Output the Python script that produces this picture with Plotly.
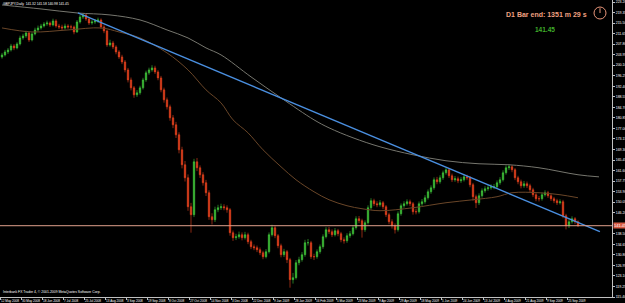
import plotly.graph_objects as go

# ---------------- data (2-day bars, GBPJPY) ----------------
closes = [203.87,204.96,205.69,207.15,206.42,207.88,210.07,210.80,211.90,209.34,
211.53,212.99,213.72,214.45,215.18,215.55,214.82,216.28,214.45,214.09,
213.72,214.45,214.09,214.09,212.26,215.91,217.74,218.47,217.01,215.55,
215.91,216.28,216.64,214.09,212.63,207.52,208.25,206.79,204.96,203.14,
201.31,198.39,194.74,191.82,189.27,190.00,191.82,194.74,197.30,198.39,
199.12,197.66,195.47,191.09,187.44,184.89,180.87,178.32,174.67,169.19,
163.72,158.97,148.39,145.47,164.81,162.62,160.07,157.15,153.50,144.74,
143.64,147.29,148.02,148.39,148.02,147.29,138.89,137.07,137.43,138.16,
137.07,138.16,135.61,133.78,133.42,132.69,131.59,130.13,131.96,138.16,
140.72,137.80,134.15,130.86,131.96,129.04,121.74,122.47,127.94,129.04,
130.86,135.24,135.24,130.13,130.13,131.96,133.78,137.43,139.99,139.26,
138.16,139.62,138.53,136.34,135.97,137.80,138.53,140.72,144.01,143.28,
139.99,142.55,148.02,150.58,149.48,149.12,149.85,148.39,145.47,142.91,
141.45,139.99,145.83,148.75,149.48,150.21,149.48,146.56,146.56,149.48,
150.21,151.67,153.86,155.32,158.24,157.51,158.97,160.80,161.89,159.70,
158.24,158.61,157.88,158.24,159.34,158.97,156.42,152.04,149.85,152.40,
154.23,154.96,155.32,155.69,155.69,157.15,158.24,160.80,162.62,162.99,
161.89,158.97,157.51,156.05,156.78,156.05,154.59,152.77,151.31,151.31,
152.77,153.50,152.40,151.31,150.58,149.85,150.21,145.10,141.45,142.91,
144.01,142.91,141.45]

opens = [203.10,203.87,204.96,205.69,207.15,206.42,207.88,210.07,210.80,211.90,
209.34,211.53,212.99,213.72,214.45,215.18,215.55,214.82,216.28,214.45,
214.09,213.72,214.45,214.09,214.09,212.26,215.91,217.74,218.47,217.01,
215.55,215.91,216.28,216.64,214.09,212.63,207.52,208.25,206.79,204.96,
203.14,201.31,198.39,194.74,191.82,189.27,190.00,191.82,194.74,197.30,
198.39,199.12,197.66,195.47,191.09,187.44,184.89,180.87,178.32,174.67,
169.19,163.72,158.97,148.39,145.47,164.81,162.62,160.07,157.15,153.50,
144.74,143.64,147.29,148.02,148.39,148.02,147.29,138.89,137.07,137.43,
138.16,137.07,138.16,135.61,133.78,133.42,132.69,131.59,130.13,131.96,
138.16,140.72,137.80,134.15,130.86,131.96,129.04,121.74,122.47,127.94,
129.04,130.86,135.24,135.24,130.13,130.13,131.96,133.78,137.43,139.99,
139.26,138.16,139.62,138.53,136.34,135.97,137.80,138.53,140.72,144.01,
143.28,139.99,142.55,148.02,150.58,149.48,149.12,149.85,148.39,145.47,
142.91,141.45,139.99,145.83,148.75,149.48,150.21,149.48,146.56,146.56,
149.48,150.21,151.67,153.86,155.32,158.24,157.51,158.97,160.80,161.89,
159.70,158.24,158.61,157.88,158.24,159.34,158.97,156.42,152.04,149.85,
152.40,154.23,154.96,155.32,155.69,155.69,157.15,158.24,160.80,162.62,
162.99,161.89,158.97,157.51,156.05,156.78,156.05,154.59,152.77,151.31,
151.31,152.77,153.50,152.40,151.31,150.58,149.85,150.21,145.10,141.45,
142.91,144.01,142.91]

highs = [204.60,205.70,206.40,207.90,207.80,208.50,210.90,211.60,212.70,212.40,
212.10,213.80,214.60,215.20,215.90,216.40,216.10,217.10,216.90,215.20,
214.90,215.30,215.10,214.90,214.60,216.60,218.50,219.10,218.90,217.60,
216.70,217.00,217.50,217.20,214.70,213.10,209.40,209.00,207.40,205.60,
203.90,202.00,199.10,195.60,192.50,191.00,192.60,195.50,198.10,199.20,
200.10,199.90,198.30,196.20,191.90,188.30,185.70,181.90,179.40,175.60,
170.30,165.10,160.20,149.80,165.90,166.20,163.50,161.00,158.20,154.40,
146.00,148.40,149.10,149.50,149.30,148.90,147.90,139.70,138.50,139.30,
139.00,139.20,138.90,136.30,134.60,134.20,133.50,132.30,132.90,139.00,
141.80,141.40,138.40,134.90,133.00,132.60,129.70,124.20,128.90,130.10,
131.80,136.30,136.60,135.90,131.20,132.80,134.60,138.30,140.90,141.00,
140.10,140.60,140.30,139.20,137.20,138.70,139.50,141.60,144.90,145.00,
144.00,143.40,148.90,151.50,151.30,150.40,150.80,150.50,149.00,146.20,
143.80,142.30,146.70,149.60,150.40,151.10,151.00,150.10,147.70,150.30,
151.20,152.60,154.70,156.20,159.10,159.30,159.90,161.60,162.70,162.40,
160.50,159.60,159.40,159.20,160.30,160.10,159.60,157.10,152.80,153.30,
155.10,155.90,156.30,156.60,156.70,158.00,159.20,161.70,163.50,163.90,
163.60,162.50,159.70,158.30,157.80,157.60,156.80,155.30,153.50,152.30,
153.60,154.40,154.20,153.10,152.00,151.30,151.10,150.90,145.80,143.80,
144.90,144.60,143.40]

lows = [202.50,203.30,204.20,205.10,205.60,205.90,207.30,209.40,210.10,208.60,
208.80,211.00,212.40,213.10,213.90,214.50,214.10,214.30,213.80,213.30,
212.90,213.10,213.40,213.20,211.40,211.90,215.30,217.00,216.30,214.80,
214.90,215.20,215.60,213.40,211.80,206.80,206.90,206.00,204.10,202.40,
200.50,197.50,193.80,190.90,188.20,188.50,189.30,191.20,194.00,196.60,
197.70,196.90,194.60,190.20,186.40,183.90,179.80,177.10,173.50,167.90,
162.40,157.60,146.90,138.90,144.60,161.40,158.90,156.10,152.30,143.60,
141.90,142.80,146.40,147.20,147.10,146.20,137.80,135.90,136.20,136.70,
136.10,136.40,134.70,132.90,132.50,131.80,130.70,129.20,129.50,131.30,
137.50,136.90,133.20,129.90,130.00,127.80,118.80,120.30,121.80,127.00,
128.30,130.10,134.20,129.30,128.90,129.40,131.20,133.00,136.80,138.40,
137.30,137.50,137.60,135.40,134.90,135.20,137.00,137.90,140.00,142.40,
137.10,139.20,141.90,147.30,148.60,148.20,148.40,147.50,144.60,142.00,
140.40,138.60,139.30,145.10,148.00,148.80,148.60,145.50,145.60,145.90,
148.70,149.50,151.00,153.10,154.60,156.60,156.80,158.20,160.10,158.90,
157.40,157.50,157.00,157.10,157.60,158.10,155.50,150.60,147.90,149.00,
151.70,153.50,154.20,154.60,154.80,155.00,156.40,157.60,160.10,161.80,
161.00,158.10,156.60,155.10,155.30,155.20,153.70,151.90,150.40,150.30,
150.60,152.10,151.60,150.50,149.70,149.00,149.20,144.20,140.10,140.60,
142.20,142.00,140.98]

bars = list(range(len(closes)))

# long moving average (grey, shifted forward) read at bar positions
ma_long_bar = [0, 13, 25, 36, 46, 55, 62, 68, 73, 83, 93, 104, 109, 117, 126, 137, 148, 159, 169, 179, 192, 199]
ma_long_val = [222.12, 220.66, 219.20, 218.47, 216.64, 212.99, 210.07, 206.42, 203.87, 195.84,
               188.17, 180.14, 177.22, 173.57, 170.29, 167.37, 165.18, 164.08, 163.72, 162.62, 160.07, 159.30]

# medium moving average (brown)
ma_mid_bar = [0, 10, 22, 33, 39, 46, 55, 62, 68, 73, 77, 82, 87, 93, 98, 104, 109, 115, 120, 126,
              137, 148, 157, 165, 170, 179, 186, 192]
ma_mid_val = [213.72, 212.26, 212.99, 213.72, 212.26, 210.07, 204.60, 198.39, 191.09, 186.35,
              180.14, 175.40, 169.19, 162.99, 158.24, 153.86, 150.94, 148.75, 147.66, 146.93,
              148.02, 149.85, 150.94, 152.04, 153.50, 153.50, 152.77, 151.67]

# trend line
trend_bar = [25.3, 199.3]
trend_val = [219.2, 139.26]

last_price = 141.45

y_ticks = [223.20, 219.35, 215.50, 211.65, 207.80, 203.95, 200.10, 196.25, 192.40, 188.55,
           184.70, 180.85, 177.00, 173.15, 169.30, 165.45, 161.60, 157.75, 153.90, 150.05,
           146.20, 138.50, 134.65, 130.80, 126.95, 123.10, 119.25, 115.40]

date_labels = ["12 May 2008", "30 May 2008", "18 Jun 2008", "7 Jul 2008", "25 Jul 2008",
               "13 Aug 2008", "3 Sep 2008", "19 Sep 2008", "8 Oct 2008", "27 Oct 2008",
               "14 Nov 2008", "3 Dec 2008", "22 Dec 2008", "9 Jan 2009", "28 Jan 2009",
               "16 Feb 2009", "5 Mar 2009", "23 Mar 2009", "9 Apr 2009", "29 Apr 2009",
               "18 May 2009", "5 Jun 2009", "24 Jun 2009", "13 Jul 2009", "4 Aug 2009",
               "21 Aug 2009", "9 Sep 2009", "25 Sep 2009"]
date_tick_bars = [7 * k - 0.667 for k in range(len(date_labels))]

# ---------------- figure ----------------
fig = go.Figure()

fig.add_trace(go.Scatter(x=ma_long_bar, y=ma_long_val, mode="lines",
                         line=dict(color="#76766e", width=1, shape="spline"), hoverinfo="skip"))
fig.add_trace(go.Scatter(x=ma_mid_bar, y=ma_mid_val, mode="lines",
                         line=dict(color="#6a4628", width=1, shape="spline"), hoverinfo="skip"))

fig.add_trace(go.Candlestick(
    x=bars, open=opens, high=highs, low=lows, close=closes,
    increasing=dict(line=dict(color="#3fc43a", width=0.6), fillcolor="#3fc43a"),
    decreasing=dict(line=dict(color="#e8431f", width=0.6), fillcolor="#e8431f"),
    whiskerwidth=0))

fig.add_trace(go.Scatter(x=trend_bar, y=trend_val, mode="lines",
                         line=dict(color="#4a8fe0", width=1.4), hoverinfo="skip"))

fig.add_shape(type="line", xref="paper", x0=0, x1=1, yref="y", y0=last_price, y1=last_price,
              line=dict(color="#e0a08c", width=1))

# clock icon
cx, cy = 600 / 612, 1 - 13 / 297
rx, ry = 6 / 612, 6 / 297
fig.add_shape(type="circle", xref="paper", yref="paper", x0=cx - rx, x1=cx + rx, y0=cy - ry, y1=cy + ry,
              line=dict(color="#e9967a", width=1))
fig.add_shape(type="line", xref="paper", yref="paper", x0=cx, x1=cx, y0=cy, y1=cy + 0.8 * ry,
              line=dict(color="#e9967a", width=1))

fig.add_annotation(xref="paper", yref="paper", x=0, y=1, xanchor="left", yanchor="top", xshift=1, yshift=0,
                   text="GBPJPY,Daily  141.32 141.58 140.98 141.45", showarrow=False,
                   font=dict(family="Liberation Sans", size=3.3, color="#ffffff"))
fig.add_annotation(xref="paper", yref="paper", x=0, y=0, xanchor="left", yanchor="bottom", xshift=1, yshift=1,
                   text="Interbank FX Trader 4, © 2001-2009 MetaQuotes Software Corp.", showarrow=False,
                   font=dict(family="Liberation Sans", size=3.4, color="#ffffff"))
fig.add_annotation(xref="paper", yref="paper", x=589 / 612, y=1 - 15 / 297, xanchor="right", yanchor="middle",
                   text="D1 Bar end: 1351 m 29 s", showarrow=False,
                   font=dict(family="Liberation Sans", size=7, weight=700, color="#f0a080"))
fig.add_annotation(xref="paper", yref="paper", x=545 / 612, y=1 - 30 / 297, xanchor="center", yanchor="middle",
                   text="141.45", showarrow=False,
                   font=dict(family="Liberation Sans", size=6.5, weight=700, color="#3fae2a"))
fig.add_annotation(xref="paper", yref="y", x=1, y=last_price, xanchor="left", yanchor="middle", xshift=1,
                   text="141.45", showarrow=False, bgcolor="#d65a44", borderpad=0,
                   font=dict(family="Liberation Sans", size=4, color="#ffffff"))

fig.update_layout(
    width=625, height=303,
    margin=dict(l=0, r=13, t=0, b=6),
    paper_bgcolor="#000000", plot_bgcolor="#000000",
    showlegend=False,
    xaxis=dict(range=[-0.667, 203.33], rangeslider=dict(visible=False), showgrid=False, zeroline=False,
               tickmode="array", tickvals=date_tick_bars, ticktext=date_labels, tickangle=0,
               ticklabelposition="outside right", ticks="outside", ticklen=2, tickcolor="#c0c0c0",
               tickfont=dict(family="Liberation Sans", size=3.1, color="#ffffff"),
               showline=True, linecolor="#c0c0c0", linewidth=1, mirror=False),
    yaxis=dict(range=[115.40, 223.93], side="right", showgrid=False, zeroline=False,
               tickmode="array", tickvals=y_ticks, ticktext=[f"{v:.2f}" for v in y_ticks],
               ticks="outside", ticklen=2, tickcolor="#c0c0c0",
               tickfont=dict(family="Liberation Sans", size=3.5, color="#ffffff"),
               showline=True, linecolor="#c0c0c0", linewidth=1),
)

fig.write_html("out.html")
